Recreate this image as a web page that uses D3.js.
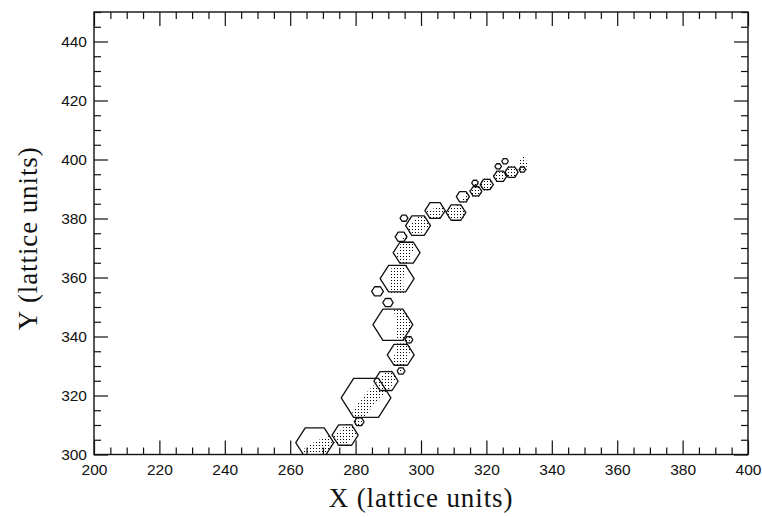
<!DOCTYPE html>
<html><head><meta charset="utf-8">
<script src="https://cdn.jsdelivr.net/npm/d3@7"></script>
<style>body{margin:0;background:#fff}</style>
</head><body>
<svg id="c" width="762" height="517"></svg>
<script>
// ---- data ----
const xMajor = [200, 220, 240, 260, 280, 300, 320, 340, 360, 380, 400];
const yMajor = [300, 320, 340, 360, 380, 400, 420, 440];
const xDomain = [200, 400];
const yDomain = [300, 450];
// hexagonal cells: centre (x, y) and radius, lattice units
const cellX = [267.5, 276.8, 281.1, 283.2, 289.3, 293.9, 293.8, 296.3, 291.4, 289.9, 286.7, 292.7, 295.6, 293.9, 299.1, 294.8, 304.3, 310.7, 312.8, 316.5, 316.8, 320.1, 323.6, 324.2, 327.7, 325.7, 331.0];
const cellY = [304.0, 306.6, 311.1, 319.2, 324.9, 328.3, 333.8, 338.9, 344.0, 351.5, 355.3, 359.6, 368.4, 373.8, 377.6, 380.1, 382.7, 382.0, 387.4, 392.1, 389.2, 391.5, 397.7, 394.3, 395.7, 399.4, 396.6];
const cellR = [5.8, 4.0, 1.5, 7.6, 3.7, 1.2, 4.1, 1.2, 6.1, 1.6, 1.8, 5.2, 4.1, 1.8, 3.8, 1.2, 3.1, 3.0, 2.0, 1.0, 1.8, 2.0, 1.0, 2.0, 2.0, 1.0, 1.0];
// stippled band (centre line)
const bandX = [262, 268.5, 276.8, 282.9, 289.0, 294.2, 294.6, 292.4, 294.8, 299.1, 305.8, 312.0, 317.4, 324.2, 332.5];
const bandY = [297, 302.2, 306.3, 316.8, 324.3, 333.8, 344.0, 359.2, 367.7, 377.6, 381.6, 382.3, 389.8, 394.2, 399.0];
// stipple-only spots (no outline)
const ghostX = [331.8];
const ghostY = [399.2];
const ghostR = [1.6];

// ---- layout ----
const L = 94, R = 748, T = 12, B = 454.5;
const svg = d3.select("#c");
const x = d3.scaleLinear().domain(xDomain).range([L, R]);
const y = d3.scaleLinear().domain(yDomain).range([B, T]);

const defs = svg.append("defs");
const pat = defs.append("pattern").attr("id", "dots").attr("patternUnits", "userSpaceOnUse")
  .attr("x", 0).attr("y", 0).attr("width", 3).attr("height", 3);
pat.append("rect").attr("x", 1).attr("y", 1).attr("width", 1).attr("height", 1)
  .attr("fill", "#000").attr("shape-rendering", "crispEdges");
defs.append("clipPath").attr("id", "plot").append("rect")
  .attr("x", L).attr("y", T).attr("width", R - L).attr("height", B - T);

function hexPath(cx, cy, r) {
  const pts = d3.range(6).map(k => {
    const a = k * Math.PI / 3;
    return [x(cx + r * Math.cos(a)), y(cy + r * Math.sin(a))];
  });
  return "M" + pts.map(p => p.join(",")).join("L") + "Z";
}
const cells = cellX.map((d, i) => ({ x: d, y: cellY[i], r: cellR[i] }));
const ghosts = ghostX.map((d, i) => ({ x: d, y: ghostY[i], r: ghostR[i] }));

const cp = defs.append("clipPath").attr("id", "cellclip");
cp.selectAll("path").data(cells.concat(ghosts)).join("path")
  .attr("d", d => hexPath(d.x, d.y, d.r + 0.3));

const g = svg.append("g").attr("clip-path", "url(#plot)");
const band = bandX.map((d, i) => [d, bandY[i]]);
const line = d3.line().x(d => x(d[0])).y(d => y(d[1])).curve(d3.curveCatmullRom);
g.append("g").attr("clip-path", "url(#cellclip)")
  .append("path").attr("d", line(band)).attr("fill", "none")
  .attr("stroke", "url(#dots)").attr("stroke-width", 14);

g.selectAll("path.hex").data(cells).join("path").attr("class", "hex")
  .attr("d", d => hexPath(d.x, d.y, d.r))
  .attr("fill", "none").attr("stroke", "#111").attr("stroke-width", 1.3)
  .attr("stroke-linejoin", "round");

// ---- axes ----
const xMinor = d3.range(200, 401, 5).filter(v => v % 20 !== 0);
const yMinor = d3.range(300, 451, 5).filter(v => v % 20 !== 0);
const font = "'Liberation Sans', Arial, sans-serif";

function styleAxis(sel) {
  sel.select(".domain").remove();
  sel.selectAll("line").attr("stroke", "#111").attr("stroke-width", 1.2);
  sel.selectAll("text").attr("font-family", font).attr("font-size", 15.5).attr("fill", "#111");
}
svg.append("g").attr("transform", `translate(0,${B})`)
  .call(d3.axisBottom(x).tickValues(xMajor).tickSize(-14).tickPadding(9).tickFormat(d3.format("d"))).call(styleAxis);
svg.append("g").attr("transform", `translate(0,${B})`)
  .call(d3.axisBottom(x).tickValues(xMinor).tickSize(-7).tickFormat("")).call(styleAxis);
svg.append("g").attr("transform", `translate(0,${T})`)
  .call(d3.axisTop(x).tickValues(xMajor).tickSize(-14).tickFormat("")).call(styleAxis);
svg.append("g").attr("transform", `translate(0,${T})`)
  .call(d3.axisTop(x).tickValues(xMinor).tickSize(-7).tickFormat("")).call(styleAxis);
svg.append("g").attr("transform", `translate(${L},0)`)
  .call(d3.axisLeft(y).tickValues(yMajor).tickSize(-14).tickPadding(7).tickFormat(d3.format("d"))).call(styleAxis);
svg.append("g").attr("transform", `translate(${L},0)`)
  .call(d3.axisLeft(y).tickValues(yMinor).tickSize(-7).tickFormat("")).call(styleAxis);
svg.append("g").attr("transform", `translate(${R},0)`)
  .call(d3.axisRight(y).tickValues(yMajor).tickSize(-14).tickFormat("")).call(styleAxis);
svg.append("g").attr("transform", `translate(${R},0)`)
  .call(d3.axisRight(y).tickValues(yMinor).tickSize(-7).tickFormat("")).call(styleAxis);

svg.append("rect").attr("x", L).attr("y", T).attr("width", R - L).attr("height", B - T)
  .attr("fill", "none").attr("stroke", "#111").attr("stroke-width", 1.4);

const serif = "'Liberation Serif', 'Times New Roman', serif";
svg.append("text").attr("x", (L + R) / 2).attr("y", 507).attr("text-anchor", "middle")
  .attr("font-family", serif).attr("font-size", 27).attr("letter-spacing", 0.9)
  .attr("fill", "#111").text("X (lattice units)");
svg.append("text").attr("transform", `translate(37,${(T + B) / 2 + 5}) rotate(-90)`).attr("text-anchor", "middle")
  .attr("font-family", serif).attr("font-size", 27).attr("letter-spacing", 0.9)
  .attr("fill", "#111").text("Y (lattice units)");
</script>
</body></html>
